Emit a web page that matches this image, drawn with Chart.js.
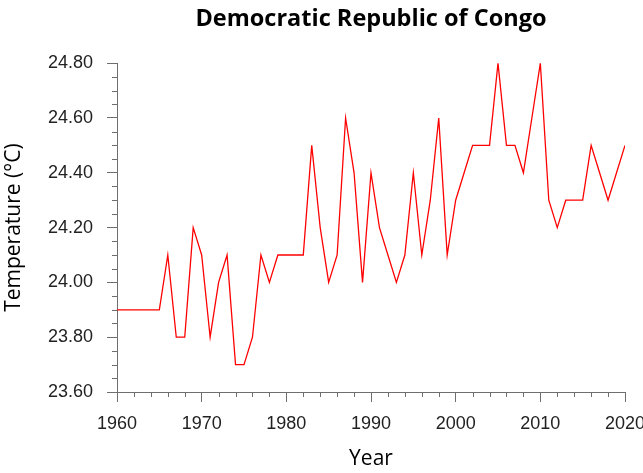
<!DOCTYPE html>
<html>
<head>
<meta charset="utf-8">
<script src="https://cdn.jsdelivr.net/npm/chart.js@4/dist/chart.umd.min.js"></script>
<style>
  html, body { margin: 0; padding: 0; background: #fff; }
  #wrap { width: 643px; height: 473px; }
</style>
</head>
<body>
<div id="wrap"><canvas id="chart" width="643" height="473"></canvas></div>
<script>
// Annual mean temperature, Democratic Republic of Congo
const years = [
  1960, 1961, 1962, 1963, 1964, 1965, 1966, 1967, 1968, 1969,
  1970, 1971, 1972, 1973, 1974, 1975, 1976, 1977, 1978, 1979,
  1980, 1981, 1982, 1983, 1984, 1985, 1986, 1987, 1988, 1989,
  1990, 1991, 1992, 1993, 1994, 1995, 1996, 1997, 1998, 1999,
  2000, 2001, 2002, 2003, 2004, 2005, 2006, 2007, 2008, 2009,
  2010, 2011, 2012, 2013, 2014, 2015, 2016, 2017, 2018, 2019,
  2020
];
const temperature = [
  23.9, 23.9, 23.9, 23.9, 23.9, 23.9, 24.1, 23.8, 23.8, 24.2,
  24.1, 23.8, 24.0, 24.1, 23.7, 23.7, 23.8, 24.1, 24.0, 24.1,
  24.1, 24.1, 24.1, 24.5, 24.2, 24.0, 24.1, 24.6, 24.4, 24.0,
  24.4, 24.2, 24.1, 24.0, 24.1, 24.4, 24.1, 24.3, 24.6, 24.1,
  24.3, 24.4, 24.5, 24.5, 24.5, 24.8, 24.5, 24.5, 24.4, 24.6,
  24.8, 24.3, 24.2, 24.3, 24.3, 24.3, 24.5, 24.4, 24.3, 24.4,
  24.5
];
const xTickYears = [1960, 1970, 1980, 1990, 2000, 2010, 2020];
const yTickValues = [23.6, 23.8, 24.0, 24.2, 24.4, 24.6, 24.8];

const axisColor = '#6e6e6e';
const tickFont = { family: "'Liberation Sans', Arial, sans-serif", size: 18 };
const titleFamily = "'Open Sans', 'Noto Sans', sans-serif";

// Short minor tick marks between the labelled ticks
const minorTicks = {
  id: 'minorTicks',
  afterDraw(chart) {
    const { ctx, chartArea, scales } = chart;
    const x = scales.x, y = scales.y;
    ctx.save();
    ctx.strokeStyle = axisColor;
    ctx.lineWidth = 1;
    ctx.beginPath();
    for (let v = 1960; v <= 2020; v += 2) {
      if (v % 10 === 0) continue;
      const px = Math.round(x.getPixelForValue(v)) + 0.5;
      ctx.moveTo(px, chartArea.bottom);
      ctx.lineTo(px, chartArea.bottom + 5);
    }
    for (let i = 0; i <= 24; i++) {
      if (i % 4 === 0) continue;
      const v = 23.6 + i * 0.05;
      const py = Math.round(y.getPixelForValue(v)) + 0.5;
      ctx.moveTo(chartArea.left - 5, py);
      ctx.lineTo(chartArea.left, py);
    }
    ctx.stroke();
    ctx.restore();
  }
};

new Chart(document.getElementById('chart'), {
  type: 'line',
  data: {
    datasets: [{
      data: years.map((yr, i) => ({ x: yr, y: temperature[i] })),
      borderColor: '#ff0000',
      borderWidth: 1.3,
      pointRadius: 0,
      tension: 0,
      fill: false
    }]
  },
  options: {
    responsive: false,
    animation: false,
    events: [],
    layout: { padding: { left: 0, right: 18, top: 0, bottom: 0 } },
    plugins: {
      legend: { display: false },
      tooltip: { enabled: false },
      title: {
        display: true,
        text: 'Democratic Republic of Congo',
        fullSize: false,
        color: '#000',
        font: { family: titleFamily, size: 23.5, weight: 'bold', lineHeight: 1.2 },
        padding: { top: 5, bottom: 30 }
      }
    },
    scales: {
      x: {
        type: 'linear',
        min: 1960,
        max: 2020,
        afterBuildTicks(scale) { scale.ticks = xTickYears.map(v => ({ value: v })); },
        afterFit(scale) { scale.height = 81; scale.paddingRight = 0; scale.paddingLeft = 0; },
        grid: { display: true, drawOnChartArea: false, drawTicks: true, tickLength: 10, color: axisColor },
        border: { display: true, color: axisColor, width: 1 },
        ticks: { color: '#222', font: tickFont, padding: 11, maxRotation: 0, callback: v => String(v) },
        title: {
          display: true, text: 'Year', color: '#000',
          font: { family: titleFamily, size: 21, lineHeight: 1.2 },
          padding: { top: 0, bottom: 1 }
        }
      },
      y: {
        type: 'linear',
        min: 23.6,
        max: 24.8,
        afterBuildTicks(scale) { scale.ticks = yTickValues.map(v => ({ value: v })); },
        afterFit(scale) { scale.width = 117; },
        grid: { display: true, drawOnChartArea: false, drawTicks: true, tickLength: 10, color: axisColor },
        border: { display: true, color: axisColor, width: 1 },
        ticks: { color: '#222', font: tickFont, padding: 14, callback: v => Number(v).toFixed(2) },
        title: {
          display: true, text: 'Temperature (°C)', color: '#000',
          font: { family: titleFamily, size: 21, lineHeight: 1.2 },
          padding: { top: 1, bottom: 0 }
        }
      }
    }
  },
  plugins: [minorTicks]
});
</script>
</body>
</html>
